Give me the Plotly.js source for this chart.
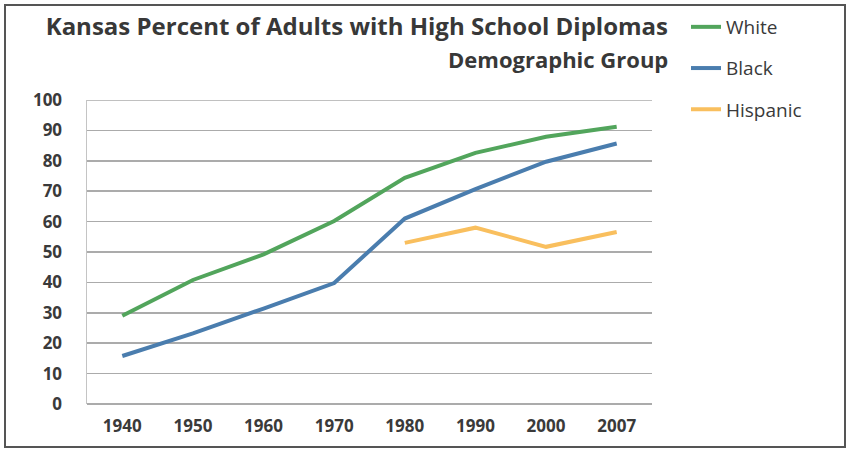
<!DOCTYPE html>
<html>
<head>
<meta charset="utf-8">
<script src="https://cdn.plot.ly/plotly-3.0.1.min.js"></script>
<style>
  html, body { margin: 0; padding: 0; background: #fff; }
  #wrap { position: relative; width: 850px; height: 450px; }
  #chart { width: 850px; height: 450px; }
  #frame { position: absolute; left: 4px; top: 4px; width: 838px; height: 440px;
           border: 2px solid #555; pointer-events: none; }
</style>
</head>
<body>
<div id="wrap">
  <div id="chart"></div>
  <div id="frame"></div>
</div>
<script>
const years = ['1940', '1950', '1960', '1970', '1980', '1990', '2000', '2007'];
const white = [29.0, 40.8, 49.2, 60.2, 74.4, 82.6, 87.9, 91.2];
const black = [15.8, 23.2, 31.4, 39.8, 61.0, 70.7, 79.7, 85.7];
const hispanic = [null, null, null, null, 53.0, 58.0, 51.7, 56.6];
const yTicks = [0, 10, 20, 30, 40, 50, 60, 70, 80, 90, 100];

const FONT = 'Open Sans, Noto Sans, sans-serif';

const traces = [
  { name: 'White', x: years, y: white, color: '#52A55C', group: 'a' },
  { name: 'Black', x: years, y: black, color: '#4A7DAE', group: 'b' },
  { name: 'Hispanic', x: years, y: hispanic, color: '#F9BF5E', group: 'c' }
].map(s => ({
  type: 'scatter', mode: 'lines', name: s.name, x: s.x, y: s.y,
  legendgroup: s.group, connectgaps: false,
  line: { color: s.color, width: 4 }
}));

const layout = {
  width: 850, height: 450,
  margin: { l: 87, r: 198, t: 100, b: 46, autoexpand: false },
  paper_bgcolor: '#ffffff', plot_bgcolor: '#ffffff',
  font: { family: FONT, color: '#3a3a3a' },
  title: {
    text: '<b>Kansas Percent of Adults with High School Diplomas</b>',
    font: { family: FONT, size: 24, color: '#383838' },
    xref: 'container', yref: 'container',
    x: 668 / 850, xanchor: 'right', y: 1 - 27 / 450, yanchor: 'middle'
  },
  annotations: [{
    text: '<b>Demographic Group</b>', showarrow: false,
    xref: 'paper', yref: 'paper', x: (670 - 87) / 565, y: (404 - 59) / 304,
    xanchor: 'right', yanchor: 'middle',
    font: { family: FONT, size: 22, color: '#383838' }
  }],
  shapes: [{
    type: 'line', xref: 'paper', yref: 'y', x0: 0, x1: 1, y0: 100, y1: 100,
    line: { color: '#ababab', width: 1.5 }
  }],
  xaxis: {
    type: 'category', range: [-0.5, 7.5], showgrid: false, zeroline: false,
    showline: false, ticks: '', ticklabelstandoff: 10,
    tickfont: { family: FONT, size: 17, color: '#3a3a3a', weight: 'bold' }
  },
  yaxis: {
    range: [0, 100], tickvals: yTicks, ticktext: yTicks.map(String),
    showgrid: true, gridcolor: '#ababab', gridwidth: 1.5,
    zeroline: true, zerolinecolor: '#ababab', zerolinewidth: 1.5,
    showline: true, linecolor: '#c4c4c4', linewidth: 1.5,
    ticks: '', ticklabelstandoff: 20,
    tickfont: { family: FONT, size: 17, color: '#3a3a3a', weight: 'bold' }
  },
  showlegend: true,
  legend: {
    xref: 'container', yref: 'container',
    x: 686 / 850, xanchor: 'left', y: 1 - 8 / 450, yanchor: 'top',
    traceorder: 'grouped', tracegroupgap: 13.5,
    font: { family: FONT, size: 19, color: '#3a3a3a' },
    bgcolor: 'rgba(0,0,0,0)'
  }
};

Plotly.newPlot('chart', traces, layout, { displayModeBar: false, staticPlot: true });
</script>
</body>
</html>
